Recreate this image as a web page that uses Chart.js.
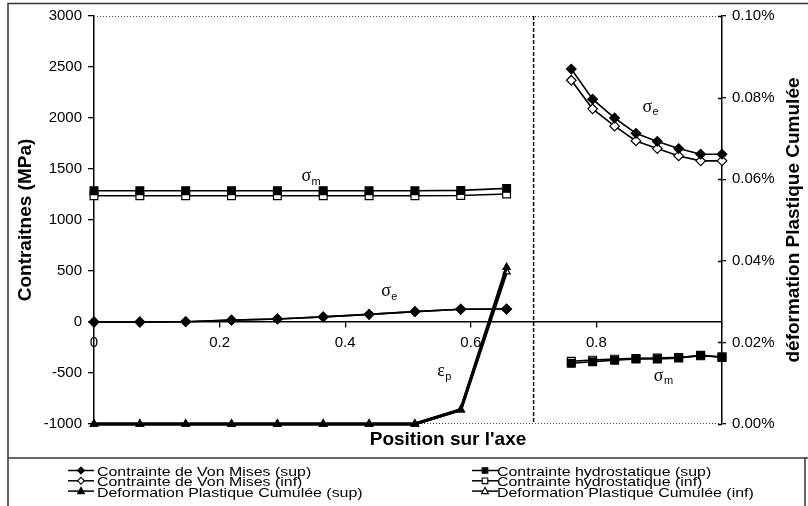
<!DOCTYPE html>
<html>
<head>
<meta charset="utf-8">
<script src="https://cdn.jsdelivr.net/npm/chart.js@4/dist/chart.umd.min.js"></script>
<style>
html,body{margin:0;padding:0;background:#fff;}
#wrap{width:808px;height:506px;position:relative;}
</style>
</head>
<body>
<div id="wrap"><canvas id="c" width="808" height="506"></canvas></div>
<script>
// ---- data ----
const positions   = [0, 0.073, 0.146, 0.219, 0.292, 0.365, 0.438, 0.511, 0.584, 0.657,
                     0.760, 0.794, 0.829, 0.863, 0.897, 0.931, 0.966, 1.000];
const vonMisesSup = [0, 0, 3, 18, 30, 50, 75, 102, 125, 127,
                     2480, 2185, 2000, 1850, 1770, 1700, 1645, 1645];
const vonMisesInf = [0, 0, 3, 18, 30, 50, 75, 102, 125, 127,
                     2370, 2090, 1920, 1775, 1700, 1628, 1580, 1580];
const hydroSup    = [1287, 1287, 1287, 1287, 1287, 1287, 1287, 1287, 1290, 1310,
                     -405, -390, -374, -363, -363, -354, -325, -347];
const hydroInf    = [1238, 1238, 1238, 1238, 1238, 1238, 1238, 1238, 1240, 1255,
                     -385, -374, -364, -357, -353, -347, -332, -340];
const plastSup    = [0, 0, 0, 0, 0, 0, 0, 0, 0.0035, 0.0384,
                     null, null, null, null, null, null, null, null];
const plastInf    = [0, 0, 0, 0, 0, 0, 0, 0, 0.0035, 0.0373,
                     null, null, null, null, null, null, null, null];
const seriesLabels = ['Contrainte de Von Mises (sup)', 'Contrainte de Von Mises (inf)',
                      'Contrainte hydrostatique (sup)', 'Contrainte hydrostatique (inf)',
                      'Deformation Plastique Cumulée (sup)', 'Deformation Plastique Cumulée (inf)'];
const xAxisTitle  = "Position sur l'axe";
const yAxisTitle  = 'Contraitnes (MPa)';
const y2AxisTitle = 'déformation Plastique Cumulée';
const xRange  = {min: 0, max: 1, step: 0.2};
const yRange  = {min: -1000, max: 3000, step: 500};
const y2Range = {min: 0, max: 0.1, step: 0.02};
const dividerX = 0.7;
const annotations = [
  {greek: 'σ', sub: 'm', x: 0.338, y: 1431},
  {greek: 'σ', sub: 'e', x: 0.465, y: 297},
  {greek: 'ε', sub: 'p', x: 0.5525, y: -487},
  {greek: 'σ', sub: 'm', x: 0.899, y: -529},
  {greek: 'σ', sub: 'e', x: 0.881, y: 2110}
];

// ---- helpers ----
const pts = arr => positions.map((x, i) => ({x: x, y: arr[i]}));
const breakSeg = {
  borderColor: ctx => (ctx.p0.parsed.x < dividerX && ctx.p1.parsed.x > dividerX) ? 'rgba(0,0,0,0)' : '#000'
};
function mk(label, arr, style, filled, radius, axis, width, order) {
  return {
    label: label, data: pts(arr), yAxisID: axis,
    borderColor: '#000', borderWidth: width,
    pointStyle: style, pointRadius: radius,
    pointBackgroundColor: filled ? '#000' : '#fff',
    pointBorderColor: '#000', pointBorderWidth: 1.2,
    segment: breakSeg, spanGaps: false, clip: false, order: order, tension: 0
  };
}

function drawMarker(ctx, style, filled, x, y, r) {
  ctx.beginPath();
  if (style === 'rectRot') {
    ctx.moveTo(x, y - r); ctx.lineTo(x + r, y); ctx.lineTo(x, y + r); ctx.lineTo(x - r, y); ctx.closePath();
  } else if (style === 'rect') {
    ctx.rect(x - r, y - r, 2 * r, 2 * r);
  } else {
    ctx.moveTo(x, y - r * 1.1); ctx.lineTo(x + r, y + r * 0.75); ctx.lineTo(x - r, y + r * 0.75); ctx.closePath();
  }
  ctx.fillStyle = filled ? '#000' : '#fff';
  ctx.fill();
  ctx.lineWidth = 1.1; ctx.strokeStyle = '#000';
  ctx.stroke();
}

const decor = {
  id: 'decor',
  beforeDatasetsDraw(chart) {
    const {ctx, chartArea: a, scales: {x, y2}} = chart;
    ctx.save();
    ctx.strokeStyle = '#444'; ctx.lineWidth = 1; ctx.setLineDash([1, 2]);
    ctx.beginPath();
    ctx.moveTo(a.left, a.top + 0.5); ctx.lineTo(a.right, a.top + 0.5);
    ctx.moveTo(a.left, a.bottom - 0.5); ctx.lineTo(a.right, a.bottom - 0.5);
    ctx.stroke();
    const dx = x.getPixelForValue(dividerX);
    ctx.strokeStyle = '#000'; ctx.lineWidth = 1.5; ctx.setLineDash([4, 2]);
    ctx.beginPath(); ctx.moveTo(dx, a.top); ctx.lineTo(dx, a.bottom); ctx.stroke();
    // inner half of the crossing ticks on the right axis
    ctx.setLineDash([]); ctx.lineWidth = 1.3;
    ctx.beginPath();
    y2.ticks.forEach(t => {
      const py = Math.round(y2.getPixelForValue(t.value)) + 0.5;
      ctx.moveTo(a.right - 4, py); ctx.lineTo(a.right, py);
    });
    ctx.stroke();
    ctx.restore();
  },
  afterDraw(chart) {
    const {ctx, chartArea: a, scales: {x, y}} = chart;
    ctx.save();
    ctx.fillStyle = '#000';
    // annotations
    annotations.forEach(an => {
      const px = x.getPixelForValue(an.x), py = y.getPixelForValue(an.y);
      ctx.font = '18px "Liberation Serif", "DejaVu Serif", serif';
      ctx.textAlign = 'center'; ctx.textBaseline = 'middle';
      const w = ctx.measureText(an.greek).width;
      ctx.fillText(an.greek, px, py);
      ctx.font = '11px "Liberation Sans", Arial, sans-serif';
      ctx.textAlign = 'left';
      ctx.fillText(an.sub, px + w / 2 + 0.5, py + 5.5);
    });
    // axis titles (x bottom, right rotated)
    ctx.font = 'bold 19px "Liberation Sans", Arial, sans-serif';
    ctx.textAlign = 'center'; ctx.textBaseline = 'middle';
    ctx.fillText(xAxisTitle, 448, 440);
    ctx.save();
    ctx.translate(794, (a.top + a.bottom) / 2);
    ctx.rotate(-Math.PI / 2);
    ctx.fillText(y2AxisTitle, 0, 0);
    ctx.restore();
    // frame
    ctx.strokeStyle = '#333'; ctx.lineWidth = 1.5;
    ctx.beginPath();
    ctx.moveTo(8, 506); ctx.lineTo(8, 3.5); ctx.lineTo(808, 3.5);
    ctx.moveTo(8, 458); ctx.lineTo(808, 458);
    ctx.moveTo(805, 458); ctx.lineTo(805, 506);
    ctx.stroke();
    // legend
    const ds = chart.data.datasets;
    const cols = [{lx: 68, tx: 97, items: [0, 1, 4]}, {lx: 472, tx: 497, items: [2, 3, 5]}];
    const baselines = [476, 486.3, 496.6];
    cols.forEach(c => {
      c.items.forEach((di, r) => {
        const d = ds[di];
        const my = baselines[r] - 5.5;
        ctx.strokeStyle = '#000'; ctx.lineWidth = 1.5; ctx.setLineDash([]);
        ctx.beginPath(); ctx.moveTo(c.lx, my); ctx.lineTo(c.lx + 26, my); ctx.stroke();
        const filled = d.pointBackgroundColor === '#000';
        const rr = d.pointStyle === 'rect' ? 2.8 : 3.4;
        drawMarker(ctx, d.pointStyle, filled, c.lx + 13, my, rr);
        ctx.save();
        ctx.translate(c.tx, baselines[r]);
        ctx.scale(1.18, 1);
        ctx.font = '13.5px "Liberation Sans", Arial, sans-serif';
        ctx.textAlign = 'left'; ctx.textBaseline = 'alphabetic';
        ctx.fillStyle = '#000';
        ctx.fillText(d.label, 0, 0);
        ctx.restore();
      });
    });
    ctx.restore();
  }
};

Chart.defaults.font.family = '"Liberation Sans", Arial, sans-serif';
Chart.defaults.color = '#000';

new Chart(document.getElementById('c'), {
  type: 'line',
  data: {
    datasets: [
      mk(seriesLabels[0], vonMisesSup, 'rectRot', true, 4.8, 'y', 1.6, 2),
      mk(seriesLabels[1], vonMisesInf, 'rectRot', false, 4.8, 'y', 1.6, 3),
      mk(seriesLabels[2], hydroSup, 'rect', true, 5.5, 'y', 1.6, 4),
      mk(seriesLabels[3], hydroInf, 'rect', false, 5.5, 'y', 1.6, 5),
      mk(seriesLabels[4], plastSup, 'triangle', true, 4.2, 'y2', 3, 0),
      mk(seriesLabels[5], plastInf, 'triangle', false, 4.2, 'y2', 3, 1)
    ]
  },
  options: {
    responsive: false,
    animation: false,
    devicePixelRatio: 1,
    layout: {padding: {left: 0, right: 0, top: 16, bottom: 82}},
    plugins: {legend: {display: false}, tooltip: {enabled: false}},
    scales: {
      x: {
        type: 'linear', position: {y: 0},
        min: xRange.min, max: xRange.max,
        ticks: {stepSize: xRange.step, font: {size: 15}, padding: 7, maxRotation: 0,
          callback: v => Math.abs(v - 1) < 1e-9 ? '' : String(+v.toFixed(1))},
        grid: {drawOnChartArea: false, drawTicks: true, tickLength: 5, color: '#000', lineWidth: 1.3},
        border: {color: '#000', width: 1.5}
      },
      y: {
        type: 'linear', position: 'left',
        min: yRange.min, max: yRange.max,
        ticks: {stepSize: yRange.step, font: {size: 15}, padding: 6,
          callback: v => String(Math.round(v))},
        grid: {drawOnChartArea: false, tickLength: 6, color: '#000', lineWidth: 1.3},
        border: {color: '#000', width: 1.5},
        title: {display: true, text: yAxisTitle, font: {size: 19, weight: 'bold'},
                padding: {top: 14.6, bottom: 0}},
        afterFit: s => { s.width = 94; }
      },
      y2: {
        type: 'linear', position: 'right',
        min: y2Range.min, max: y2Range.max,
        ticks: {stepSize: y2Range.step, font: {size: 15}, padding: 6,
          callback: v => v.toFixed(2) + '%'},
        grid: {drawOnChartArea: false, tickLength: 4, color: '#000', lineWidth: 1.3},
        border: {color: '#000', width: 1.5},
        afterFit: s => { s.width = 86; }
      }
    }
  },
  plugins: [decor]
});
</script>
</body>
</html>
